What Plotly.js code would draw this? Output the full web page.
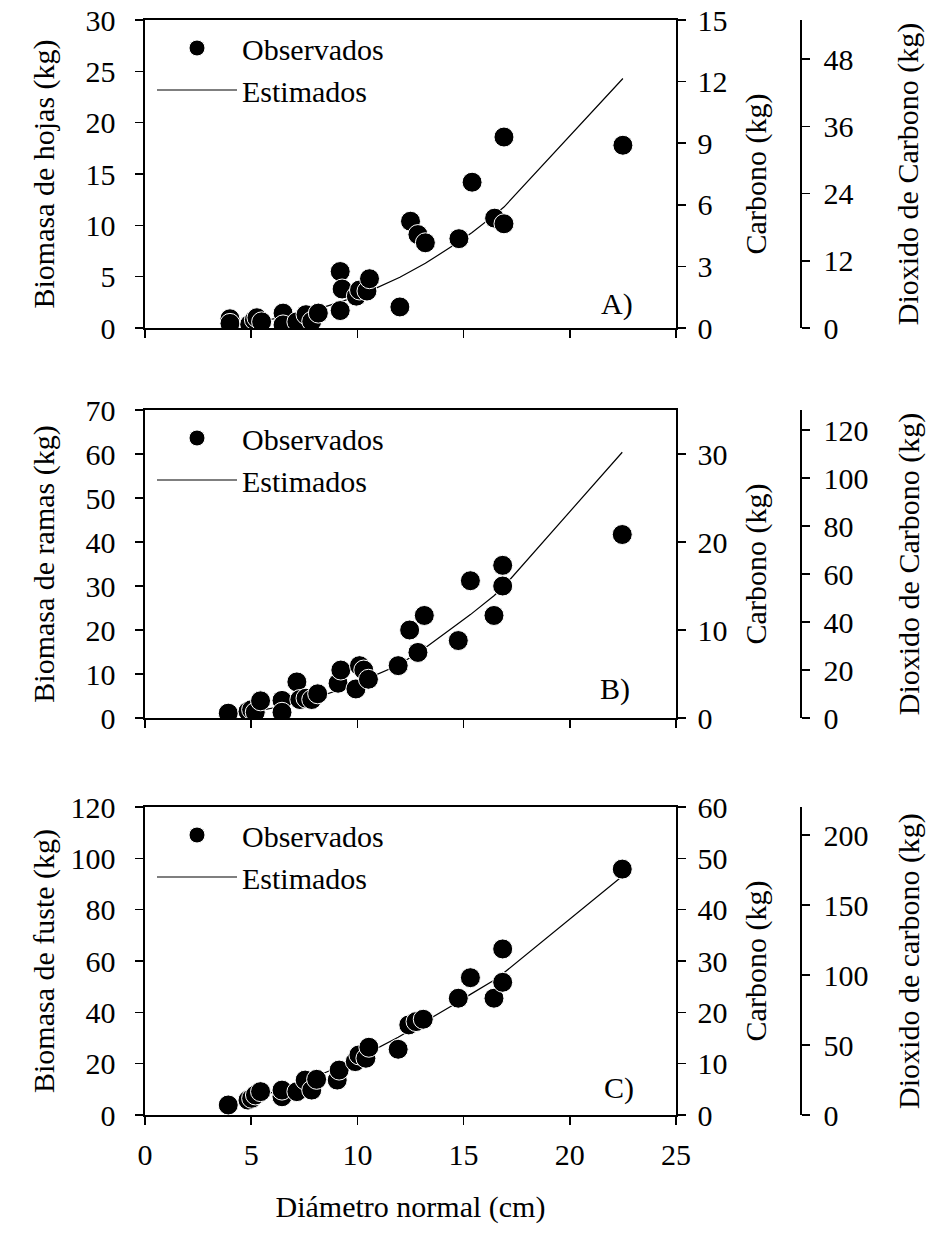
<!DOCTYPE html>
<html>
<head>
<meta charset="utf-8">
<script src="https://cdn.plot.ly/plotly-3.0.1.min.js"></script>
<style>html,body{margin:0;padding:0;background:#fff;}</style>
</head>
<body>
<div id="chart" style="width:935px;height:1241px;"></div>
<script>
// ---- Panel A: hojas ----
var obsX_A = [4.0, 4.0, 4.93, 5.15, 5.27, 5.49, 6.5, 6.5, 7.15, 7.58, 7.85, 8.16, 9.19, 9.19, 9.28, 9.95, 10.1, 10.45, 10.57, 12.0, 12.5, 12.85, 13.2, 14.78, 15.4, 16.46, 16.9, 16.9, 22.5];
var obsY_A = [0.9, 0.45, 0.35, 0.8, 1.0, 0.6, 1.45, 0.3, 0.6, 1.3, 0.65, 1.45, 1.7, 5.5, 3.8, 3.1, 3.7, 3.6, 4.8, 2.05, 10.4, 9.1, 8.3, 8.7, 14.2, 10.7, 18.6, 10.15, 17.8];
var estX_A = [4.0, 4.93, 5.15, 5.27, 5.49, 6.5, 7.15, 7.58, 7.85, 8.16, 9.19, 9.28, 9.95, 10.1, 10.45, 10.57, 12.0, 12.5, 12.85, 13.2, 14.78, 15.4, 16.46, 16.9, 22.5];
var estY_A = [0.31, 0.52, 0.58, 0.62, 0.69, 1.05, 1.34, 1.55, 1.69, 1.87, 2.52, 2.59, 3.08, 3.2, 3.49, 3.59, 4.95, 5.49, 5.89, 6.3, 8.39, 9.31, 11.02, 11.78, 24.3];

// ---- Panel B: ramas ----
var obsX_B = [3.92, 4.85, 5.02, 5.19, 5.44, 6.45, 6.45, 7.15, 7.29, 7.58, 7.85, 8.13, 9.09, 9.22, 9.93, 10.1, 10.3, 10.52, 11.92, 12.46, 12.85, 13.15, 14.75, 15.32, 16.43, 16.84, 16.84, 22.47];
var obsY_B = [1.1, 1.5, 1.9, 1.3, 3.9, 4.0, 1.3, 8.2, 4.2, 4.5, 4.2, 5.5, 7.9, 10.9, 6.6, 11.9, 10.9, 8.8, 11.9, 20.0, 14.9, 23.3, 17.6, 31.2, 23.3, 34.7, 30.0, 41.7];
var estX_B = [3.92, 4.85, 5.02, 5.19, 5.44, 6.45, 7.15, 7.29, 7.58, 7.85, 8.13, 9.09, 9.22, 9.93, 10.1, 10.3, 10.52, 11.92, 12.46, 12.85, 13.15, 14.75, 15.32, 16.43, 16.84, 22.47];
var estY_B = [0.77, 1.31, 1.42, 1.55, 1.74, 2.67, 3.45, 3.62, 3.99, 4.36, 4.76, 6.29, 6.52, 7.84, 8.18, 8.59, 9.06, 12.0, 13.6, 14.9, 15.8, 21.5, 23.5, 27.8, 29.6, 60.4];

// ---- Panel C: fuste ----
var obsX_C = [3.92, 4.85, 5.02, 5.2, 5.44, 6.45, 6.45, 7.15, 7.54, 7.85, 8.08, 9.05, 9.14, 9.9, 10.07, 10.4, 10.54, 11.92, 12.42, 12.76, 13.1, 14.75, 15.32, 16.43, 16.84, 16.84, 22.47];
var obsY_C = [3.9, 5.8, 6.5, 7.8, 9.1, 7.1, 9.7, 9.1, 13.6, 9.7, 13.9, 13.6, 17.5, 20.8, 23.4, 22.1, 26.4, 25.6, 35.1, 36.4, 37.3, 45.5, 53.5, 45.5, 64.7, 51.7, 95.8];
var estX_C = [3.92, 4.85, 5.02, 5.2, 5.44, 6.45, 7.15, 7.54, 7.85, 8.08, 9.05, 9.14, 9.9, 10.07, 10.4, 10.54, 11.92, 12.42, 12.76, 13.1, 14.75, 15.32, 16.43, 16.84, 22.47];
var estY_C = [4.1, 6.0, 6.4, 6.8, 7.4, 10.0, 12.1, 13.3, 14.3, 15.1, 18.5, 18.8, 21.7, 22.4, 23.7, 24.3, 30.3, 32.7, 34.3, 36.0, 44.0, 47.0, 52.5, 55.0, 93.0];

// ---- Text ----
var leftTitles = ["Biomasa de hojas (kg)", "Biomasa de ramas (kg)", "Biomasa de fuste (kg)"];
var carbonTitle = "Carbono (kg)";
var co2Titles = ["Dioxido de Carbono (kg)", "Dioxido de Carbono (kg)", "Dioxido de carbono (kg)"];
var panelLabels = ["A)", "B)", "C)"];
var xTitle = "Diámetro normal (cm)";
var seriesNames = ["Observados", "Estimados"];

// ---- Axis ranges / ticks ----
var leftRanges = [[0, 30], [0, 70], [0, 120]];
var leftDticks = [5, 10, 20];
var carbonRanges = [[0, 15], [0, 35], [0, 60]];
var carbonDticks = [3, 10, 10];
var co2Ranges = [[0, 55], [0, 128.333], [0, 220]];
var co2Dticks = [12, 20, 50];
var xRange = [0, 25];
var labelPos = [[22.2, 2.3], [22.15, 6.6], [22.3, 10.6]];

var W = 935, H = 1241;
var FONT = "Liberation Serif";
var FS = 30;
function px(x) { return x / W; }
function py(y) { return 1 - y / H; }

var panels = [
  {top: 20, bottom: 328, ox: obsX_A, oy: obsY_A, ex: estX_A, ey: estY_A, lstand: 22, cstand: 44},
  {top: 410, bottom: 718, ox: obsX_B, oy: obsY_B, ex: estX_B, ey: estY_B, lstand: 22, cstand: 30},
  {top: 807, bottom: 1115, ox: obsX_C, oy: obsY_C, ex: estX_C, ey: estY_C, lstand: 7, cstand: 30}
];

var xL = 145, xR = 676, xCO2 = 800;
var data = [];
var layout = {
  width: W, height: H,
  margin: {l: 0, r: 0, t: 0, b: 0},
  paper_bgcolor: "#fff", plot_bgcolor: "rgba(0,0,0,0)",
  font: {family: FONT, size: FS, color: "#000"},
  showlegend: true,
  annotations: []
};

var lineW = 1.6;
panels.forEach(function (p, i) {
  var n = i + 1;
  var xa = n === 1 ? "x" : "x" + n;
  var ya = n === 1 ? "y" : "y" + n;
  var yc = "y" + (n + 3);
  var yd = "y" + (n + 6);
  var leg = n === 1 ? "legend" : "legend" + n;

  data.push({
    type: "scatter", mode: "lines", x: p.ex, y: p.ey, xaxis: xa, yaxis: ya,
    name: seriesNames[1], legend: leg,
    line: {color: "#000", width: 1.2}
  });
  data.push({
    type: "scatter", mode: "markers", x: p.ox, y: p.oy, xaxis: xa, yaxis: ya,
    name: seriesNames[0], legend: leg,
    marker: {color: "#000", size: 20, line: {color: "#fff", width: 1}}
  });
  data.push({type: "scatter", mode: "markers", x: [], y: [], xaxis: xa, yaxis: yc, showlegend: false, hoverinfo: "skip"});
  data.push({type: "scatter", mode: "markers", x: [], y: [], xaxis: xa, yaxis: yd, showlegend: false, hoverinfo: "skip"});

  var dom = [py(p.bottom), py(p.top)];
  var common = {
    showgrid: false, zeroline: false, showline: true, linecolor: "#000", linewidth: lineW,
    ticks: "outside", ticklen: 8, tickwidth: lineW, tickcolor: "#000",
    tickfont: {family: FONT, size: FS, color: "#000"}, fixedrange: true
  };

  layout[n === 1 ? "xaxis" : "xaxis" + n] = Object.assign({}, common, {
    domain: [px(xL), px(xR)], anchor: ya, range: xRange, dtick: 5, tick0: 0,
    mirror: true, showticklabels: n === 3, ticklabelstandoff: 4,
    title: n === 3 ? {text: xTitle, font: {family: FONT, size: FS}, standoff: 26} : {text: ""}
  });
  layout[n === 1 ? "yaxis" : "yaxis" + n] = Object.assign({}, common, {
    domain: dom, anchor: xa, range: leftRanges[i], dtick: leftDticks[i], tick0: 0,
    ticklabelstandoff: 14,
    title: {text: leftTitles[i], font: {family: FONT, size: FS}, standoff: p.lstand}
  });
  layout["yaxis" + (n + 3)] = Object.assign({}, common, {
    domain: dom, anchor: xa, overlaying: ya, side: "right",
    range: carbonRanges[i], dtick: carbonDticks[i], tick0: 0,
    ticklabelstandoff: 6,
    title: {text: carbonTitle, font: {family: FONT, size: FS}, standoff: 18}
  });
  layout["yaxis" + (n + 6)] = Object.assign({}, common, {
    domain: dom, anchor: "free", position: px(xCO2), overlaying: ya, side: "right",
    range: co2Ranges[i], dtick: co2Dticks[i], tick0: 0,
    ticklabelstandoff: 8,
    title: {text: co2Titles[i], font: {family: FONT, size: FS}, standoff: p.cstand}
  });

  layout[leg] = {
    x: px(152), y: py(p.top + 2), xanchor: "left", yanchor: "top",
    bgcolor: "rgba(0,0,0,0)", borderwidth: 0, traceorder: "reversed",
    itemwidth: 80, font: {family: FONT, size: FS, color: "#000"}, tracegroupgap: 0
  };

  layout.annotations.push({
    xref: xa, yref: ya, x: labelPos[i][0], y: labelPos[i][1],
    text: panelLabels[i], showarrow: false, xanchor: "center", yanchor: "middle",
    font: {family: FONT, size: FS, color: "#000"}
  });
});

Plotly.newPlot("chart", data, layout, {displayModeBar: false, staticPlot: true});
</script>
</body>
</html>
